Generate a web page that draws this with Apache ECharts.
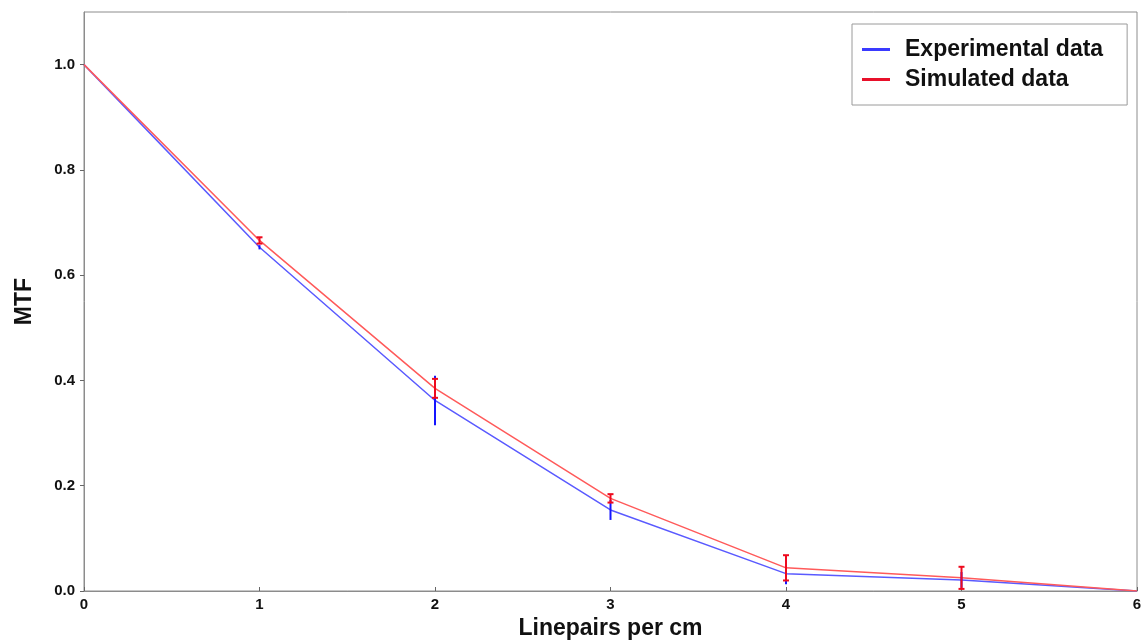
<!DOCTYPE html>
<html>
<head>
<meta charset="utf-8">
<script src="https://cdn.jsdelivr.net/npm/echarts@6/dist/echarts.min.js"></script>
<style>
  html, body { margin: 0; padding: 0; background: #fff; }
  #chart { width: 1147px; height: 640px; }
</style>
</head>
<body>
<div id="chart"></div>
<script>
// x values (linepairs per cm)
var xs = [0, 1, 2, 3, 4, 5, 6];
// MTF values
var experimental = [1.0, 0.653, 0.362, 0.154, 0.033, 0.021, 0.0];
var simulated = [1.0, 0.666, 0.385, 0.176, 0.044, 0.025, 0.0];
// half-width of the error bars
var expErr = [0, 0.004, 0.047, 0.019, 0.02, 0.015, 0];
var simErr = [0, 0.006, 0.018, 0.008, 0.024, 0.021, 0];
// y tick values
var yTicks = [0, 0.2, 0.4, 0.6, 0.8, 1.0];

var chart = echarts.init(document.getElementById('chart'));

function pairs(ys) {
  return xs.map(function (x, i) { return [x, ys[i]]; });
}
function errData(ys, es) {
  var out = [];
  xs.forEach(function (x, i) {
    if (es[i] > 0) out.push([x, ys[i] - es[i], ys[i] + es[i]]);
  });
  return out;
}
function errRender(color, capW) {
  return function (params, api) {
    var lo = api.coord([api.value(0), api.value(1)]);
    var hi = api.coord([api.value(0), api.value(2)]);
    var st = { stroke: color, lineWidth: 2 };
    return {
      type: 'group',
      children: [
        { type: 'line', shape: { x1: lo[0], y1: lo[1], x2: hi[0], y2: hi[1] }, style: st },
        { type: 'line', shape: { x1: hi[0] - capW, y1: hi[1], x2: hi[0] + capW, y2: hi[1] }, style: st },
        { type: 'line', shape: { x1: lo[0] - capW, y1: lo[1], x2: lo[0] + capW, y2: lo[1] }, style: st }
      ]
    };
  };
}

var font = 'Liberation Sans, Arial, sans-serif';

var option = {
  animation: false,
  grid: {
    left: 84, right: 10, top: 12, bottom: 49,
    outerBoundsMode: 'none',
    containLabel: false,
    show: true, borderColor: '#8c8c8c', borderWidth: 1
  },
  legend: {
    orient: 'vertical',
    left: 852, top: 24,
    padding: [14, 24, 14, 10],
    backgroundColor: '#fff',
    borderColor: '#9a9a9a',
    borderWidth: 1,
    itemWidth: 28, itemHeight: 3,
    itemGap: 7,
    icon: 'rect',
    textStyle: { fontFamily: font, fontSize: 23, fontWeight: 'bold', color: '#111', padding: [0, 0, 0, 10] },
    data: ['Experimental data', 'Simulated data']
  },
  xAxis: {
    type: 'value', min: 0, max: 6, interval: 1,
    name: 'Linepairs per cm', nameLocation: 'middle', nameGap: 24,
    nameTextStyle: { fontFamily: font, fontSize: 23, fontWeight: 'bold', color: '#111' },
    axisLine: { show: true, lineStyle: { color: '#8c8c8c' } },
    axisTick: { show: true, length: 4, inside: true, lineStyle: { color: '#666' } },
    axisLabel: { fontFamily: font, fontSize: 15, fontWeight: 'bold', color: '#111', margin: 6 },
    splitLine: { show: false }
  },
  yAxis: {
    type: 'value', min: 0, max: 1.1, interval: 0.2,
    name: 'MTF', nameLocation: 'middle', nameGap: 48, nameRotate: 90,
    nameTextStyle: { fontFamily: font, fontSize: 23, fontWeight: 'bold', color: '#111' },
    axisLine: { show: true, lineStyle: { color: '#8c8c8c' } },
    axisTick: { show: true, length: 4, inside: false, customValues: yTicks, lineStyle: { color: '#666' } },
    axisLabel: {
      fontFamily: font, fontSize: 15, fontWeight: 'bold', color: '#111', margin: 9,
      customValues: yTicks,
      formatter: function (v) { return v > 1.0001 ? '' : v.toFixed(1); }
    },
    splitLine: { show: false }
  },
  series: [
    {
      name: 'Experimental data', type: 'line', data: pairs(experimental),
      color: '#3a3aff', showSymbol: false, z: 2,
      lineStyle: { color: '#5a5aff', width: 1.5 }
    },
    {
      name: 'Simulated data', type: 'line', data: pairs(simulated),
      color: '#e8102a', showSymbol: false, z: 3,
      lineStyle: { color: '#ff5a5a', width: 1.5 }
    },
    {
      type: 'custom', data: errData(experimental, expErr), z: 4,
      renderItem: errRender('#1515ff', 0), silent: true
    },
    {
      type: 'custom', data: errData(simulated, simErr), z: 5,
      renderItem: errRender('#ee0a1e', 3), silent: true
    }
  ]
};
chart.setOption(option);
</script>
</body>
</html>
